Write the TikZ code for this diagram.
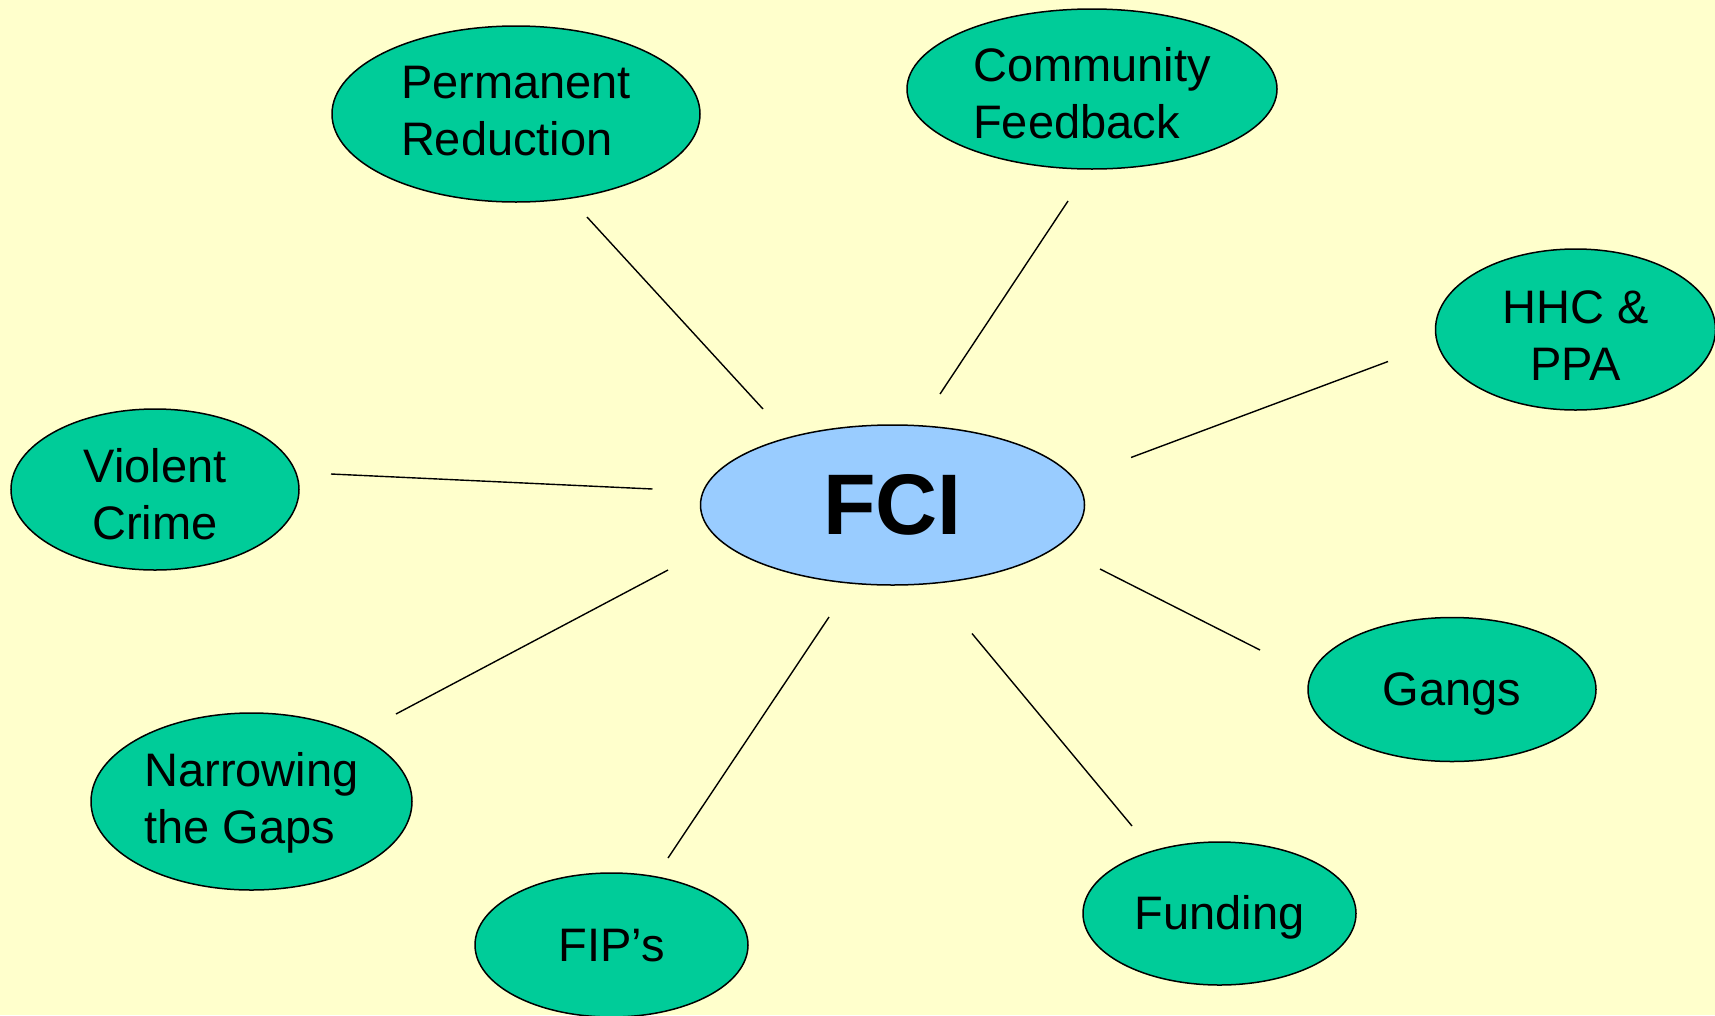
\documentclass[tikz,border=0pt]{standalone}
\usepackage{fontspec}
\setmainfont{Liberation Sans}
\usepackage{xcolor}
\usepackage{tikz}
\usetikzlibrary{shapes.geometric}
\definecolor{bgyellow}{HTML}{FFFFCC}
\definecolor{topicgreen}{HTML}{00CC99}
\definecolor{coreblue}{HTML}{99CCFF}

\begin{document}
\begin{tikzpicture}[x=1pt, y=-1pt,
    topic/.style={ellipse, draw=black, line width=1.5pt, fill=topicgreen, inner sep=0pt, font=\fontsize{47}{57}\selectfont},
    oneline/.style={text height=34pt, text depth=2pt},
    twoline/.style={text height=#1, text depth=2pt},
    spoke/.style={line width=1.4pt}]
      % Background
      \useasboundingbox (0,0) rectangle (1715,1015);
      \clip (0,0) rectangle (1715,1015);
      \fill[bgyellow] (0,0) rectangle (1715,1015);

      % Centre
      \node[topic, fill=coreblue, minimum width=384pt, minimum height=160pt, font=\fontsize{86}{100}\selectfont\bfseries] (fci) at (892.5,505) {FCI};

      % Topics
      \node[topic, twoline=84pt, minimum width=368pt, minimum height=176pt, align=left] (perm) at (516,114) {Permanent\\Reduction};
      \node[topic, twoline=101pt, minimum width=370pt, minimum height=160pt, align=left] (comm) at (1092,89) {Community\\Feedback};
      \node[topic, twoline=103pt, minimum width=280pt, minimum height=161pt, align=center] (hhc) at (1575.5,329.5) {HHC \&\\PPA};
      \node[topic, twoline=101pt, minimum width=288pt, minimum height=161pt, align=center] (viol) at (155,489.5) {Violent\\Crime};
      \node[topic, twoline=85pt, minimum width=321pt, minimum height=177pt, align=left] (narr) at (251.5,801.5) {Narrowing\\the Gaps};
      \node[topic, oneline, minimum width=273pt, minimum height=144pt] (fips) at (611.5,945) {FIP’s};
      \node[topic, oneline, minimum width=273pt, minimum height=143pt] (fund) at (1219.5,913.5) {Funding};
      \node[topic, oneline, minimum width=288pt, minimum height=144pt] (gang) at (1452,689.5) {Gangs};

      % Spoke ends
      \coordinate (perm-s) at (763,409);   \coordinate (perm-e) at (587,217);
      \coordinate (comm-s) at (940,394);   \coordinate (comm-e) at (1068,201);
      \coordinate (hhc-s)  at (1131,457.5); \coordinate (hhc-e)  at (1388,361.5);
      \coordinate (viol-s) at (652.5,489); \coordinate (viol-e) at (331,474);
      \coordinate (narr-s) at (668,570);   \coordinate (narr-e) at (396,714);
      \coordinate (fips-s) at (829,617);   \coordinate (fips-e) at (668,858);
      \coordinate (fund-s) at (972,633.5); \coordinate (fund-e) at (1132,826);
      \coordinate (gang-s) at (1100,569);  \coordinate (gang-e) at (1260,650);

      % Spokes
      \draw[spoke] (perm-s) -- (perm-e);
      \draw[spoke] (comm-s) -- (comm-e);
      \draw[spoke] (hhc-s) -- (hhc-e);
      \draw[spoke] (viol-s) -- (viol-e);
      \draw[spoke] (narr-s) -- (narr-e);
      \draw[spoke] (fips-s) -- (fips-e);
      \draw[spoke] (fund-s) -- (fund-e);
      \draw[spoke] (gang-s) -- (gang-e);
\end{tikzpicture}
\end{document}
